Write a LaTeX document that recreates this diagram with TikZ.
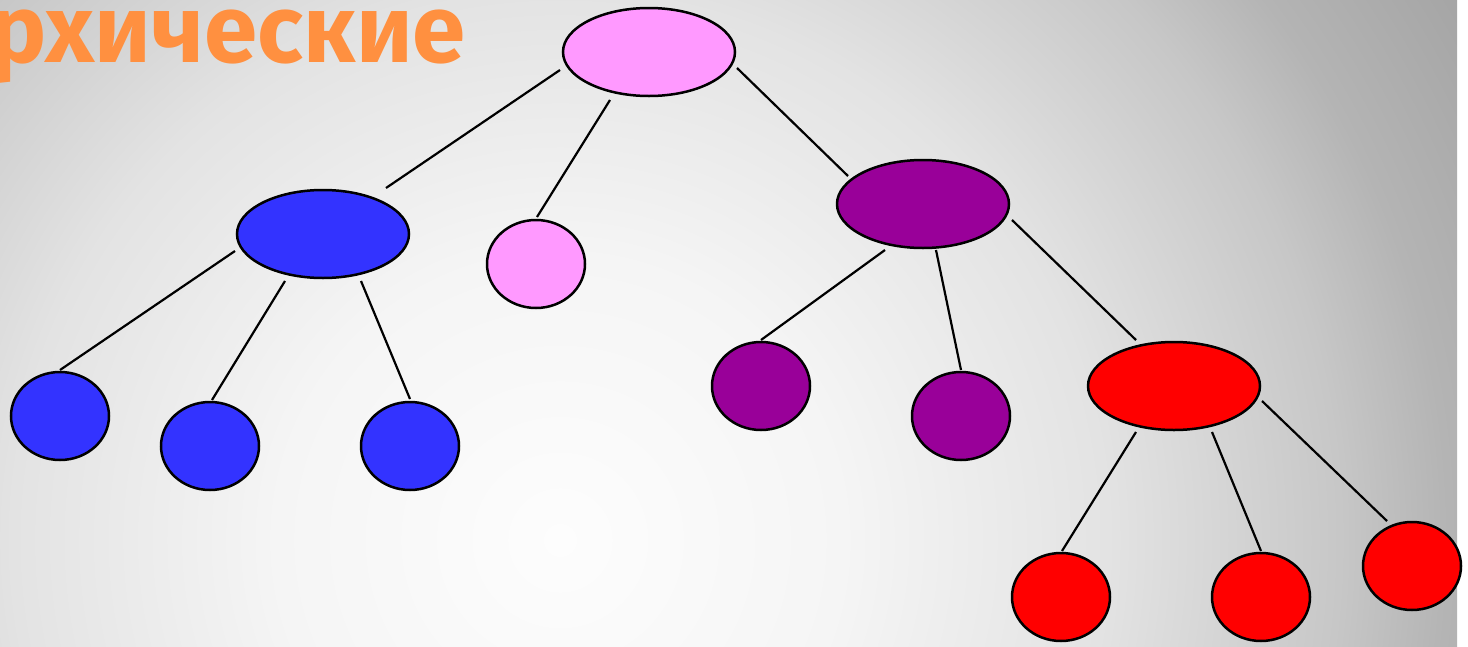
\documentclass[tikz,border=0pt]{standalone}
\usepackage{fontspec}
\newfontfamily\titlefont{Fira Sans}
\usetikzlibrary{shapes.geometric}
\definecolor{c0}{gray}{0.992}
\definecolor{c1}{gray}{0.961}
\definecolor{c2}{gray}{0.890}
\definecolor{c3}{gray}{0.780}
\definecolor{c4}{gray}{0.706}
\definecolor{c5}{gray}{0.647}
\definecolor{pinkf}{HTML}{FF99FF}
\definecolor{bluef}{HTML}{3333FF}
\definecolor{purplef}{HTML}{990099}
\definecolor{redf}{HTML}{FF0000}
\definecolor{titleor}{HTML}{FF9040}
\pgfdeclareradialshading{bgshade}{\pgfpoint{0bp}{0bp}}{color(0bp)=(c0); color(281bp)=(c1); color(546bp)=(c2); color(778bp)=(c3); color(885bp)=(c4); color(1047bp)=(c5); color(1060bp)=(c5)}
\begin{document}
\begin{tikzpicture}[x=1pt,y=-1pt,
  bignode/.style={ellipse, draw=black, line width=2.5pt, minimum width=172pt, minimum height=88pt, inner sep=0pt},
  smallnode/.style={ellipse, draw=black, line width=2.5pt, minimum width=98pt, minimum height=88pt, inner sep=0pt},
  link/.style={line width=2.2pt, draw=black}]
\fill[white] (0,0) rectangle (1468,646);
\useasboundingbox (0,0) rectangle (1468,646);
\begin{scope}
\clip (0,0) rectangle (1457,646);
\node[inner sep=0pt, outer sep=0pt] (bg) at (560,540) {\pgfuseshading{bgshade}};
\node[anchor=base east, inner sep=0pt, text=titleor, font=\titlefont\bfseries\fontsize{96}{96}\selectfont] (title) at (466,62) {рхические};
\end{scope}
% nodes
\node[bignode, fill=pinkf] (root) at (649,52) {};
\node[bignode, fill=bluef] (bA) at (323,234) {};
\node[smallnode, fill=pinkf] (pS) at (536,264) {};
\node[bignode, fill=purplef] (pu) at (923,204) {};
\node[smallnode, fill=bluef] (b1) at (60,416) {};
\node[smallnode, fill=bluef] (b2) at (210,446) {};
\node[smallnode, fill=bluef] (b3) at (410,446) {};
\node[smallnode, fill=purplef] (u1) at (761,386) {};
\node[smallnode, fill=purplef] (u2) at (961,416) {};
\node[bignode, fill=redf] (rd) at (1174,386) {};
\node[smallnode, fill=redf] (r1) at (1061,597) {};
\node[smallnode, fill=redf] (r2) at (1261,597) {};
\node[smallnode, fill=redf] (r3) at (1412,566) {};
% connector ends
\coordinate (l1a) at (560,70);   \coordinate (l1b) at (386,188);
\coordinate (l2a) at (610,100);  \coordinate (l2b) at (537,217);
\coordinate (l3a) at (737,68);   \coordinate (l3b) at (848,176);
\coordinate (l4a) at (235,251);  \coordinate (l4b) at (60,370);
\coordinate (l5a) at (285,281);  \coordinate (l5b) at (212,400);
\coordinate (l6a) at (361,281);  \coordinate (l6b) at (410,399);
\coordinate (l7a) at (885,250);  \coordinate (l7b) at (761,340);
\coordinate (l8a) at (936,250);  \coordinate (l8b) at (961,370);
\coordinate (l9a) at (1012,220); \coordinate (l9b) at (1136,340);
\coordinate (l10a) at (1136,432); \coordinate (l10b) at (1062,551);
\coordinate (l11a) at (1212,432); \coordinate (l11b) at (1261,551);
\coordinate (l12a) at (1262,401); \coordinate (l12b) at (1387,521);
\foreach \i in {1,...,12} {\draw[link] (l\i a) -- (l\i b);}
\end{tikzpicture}
\end{document}
